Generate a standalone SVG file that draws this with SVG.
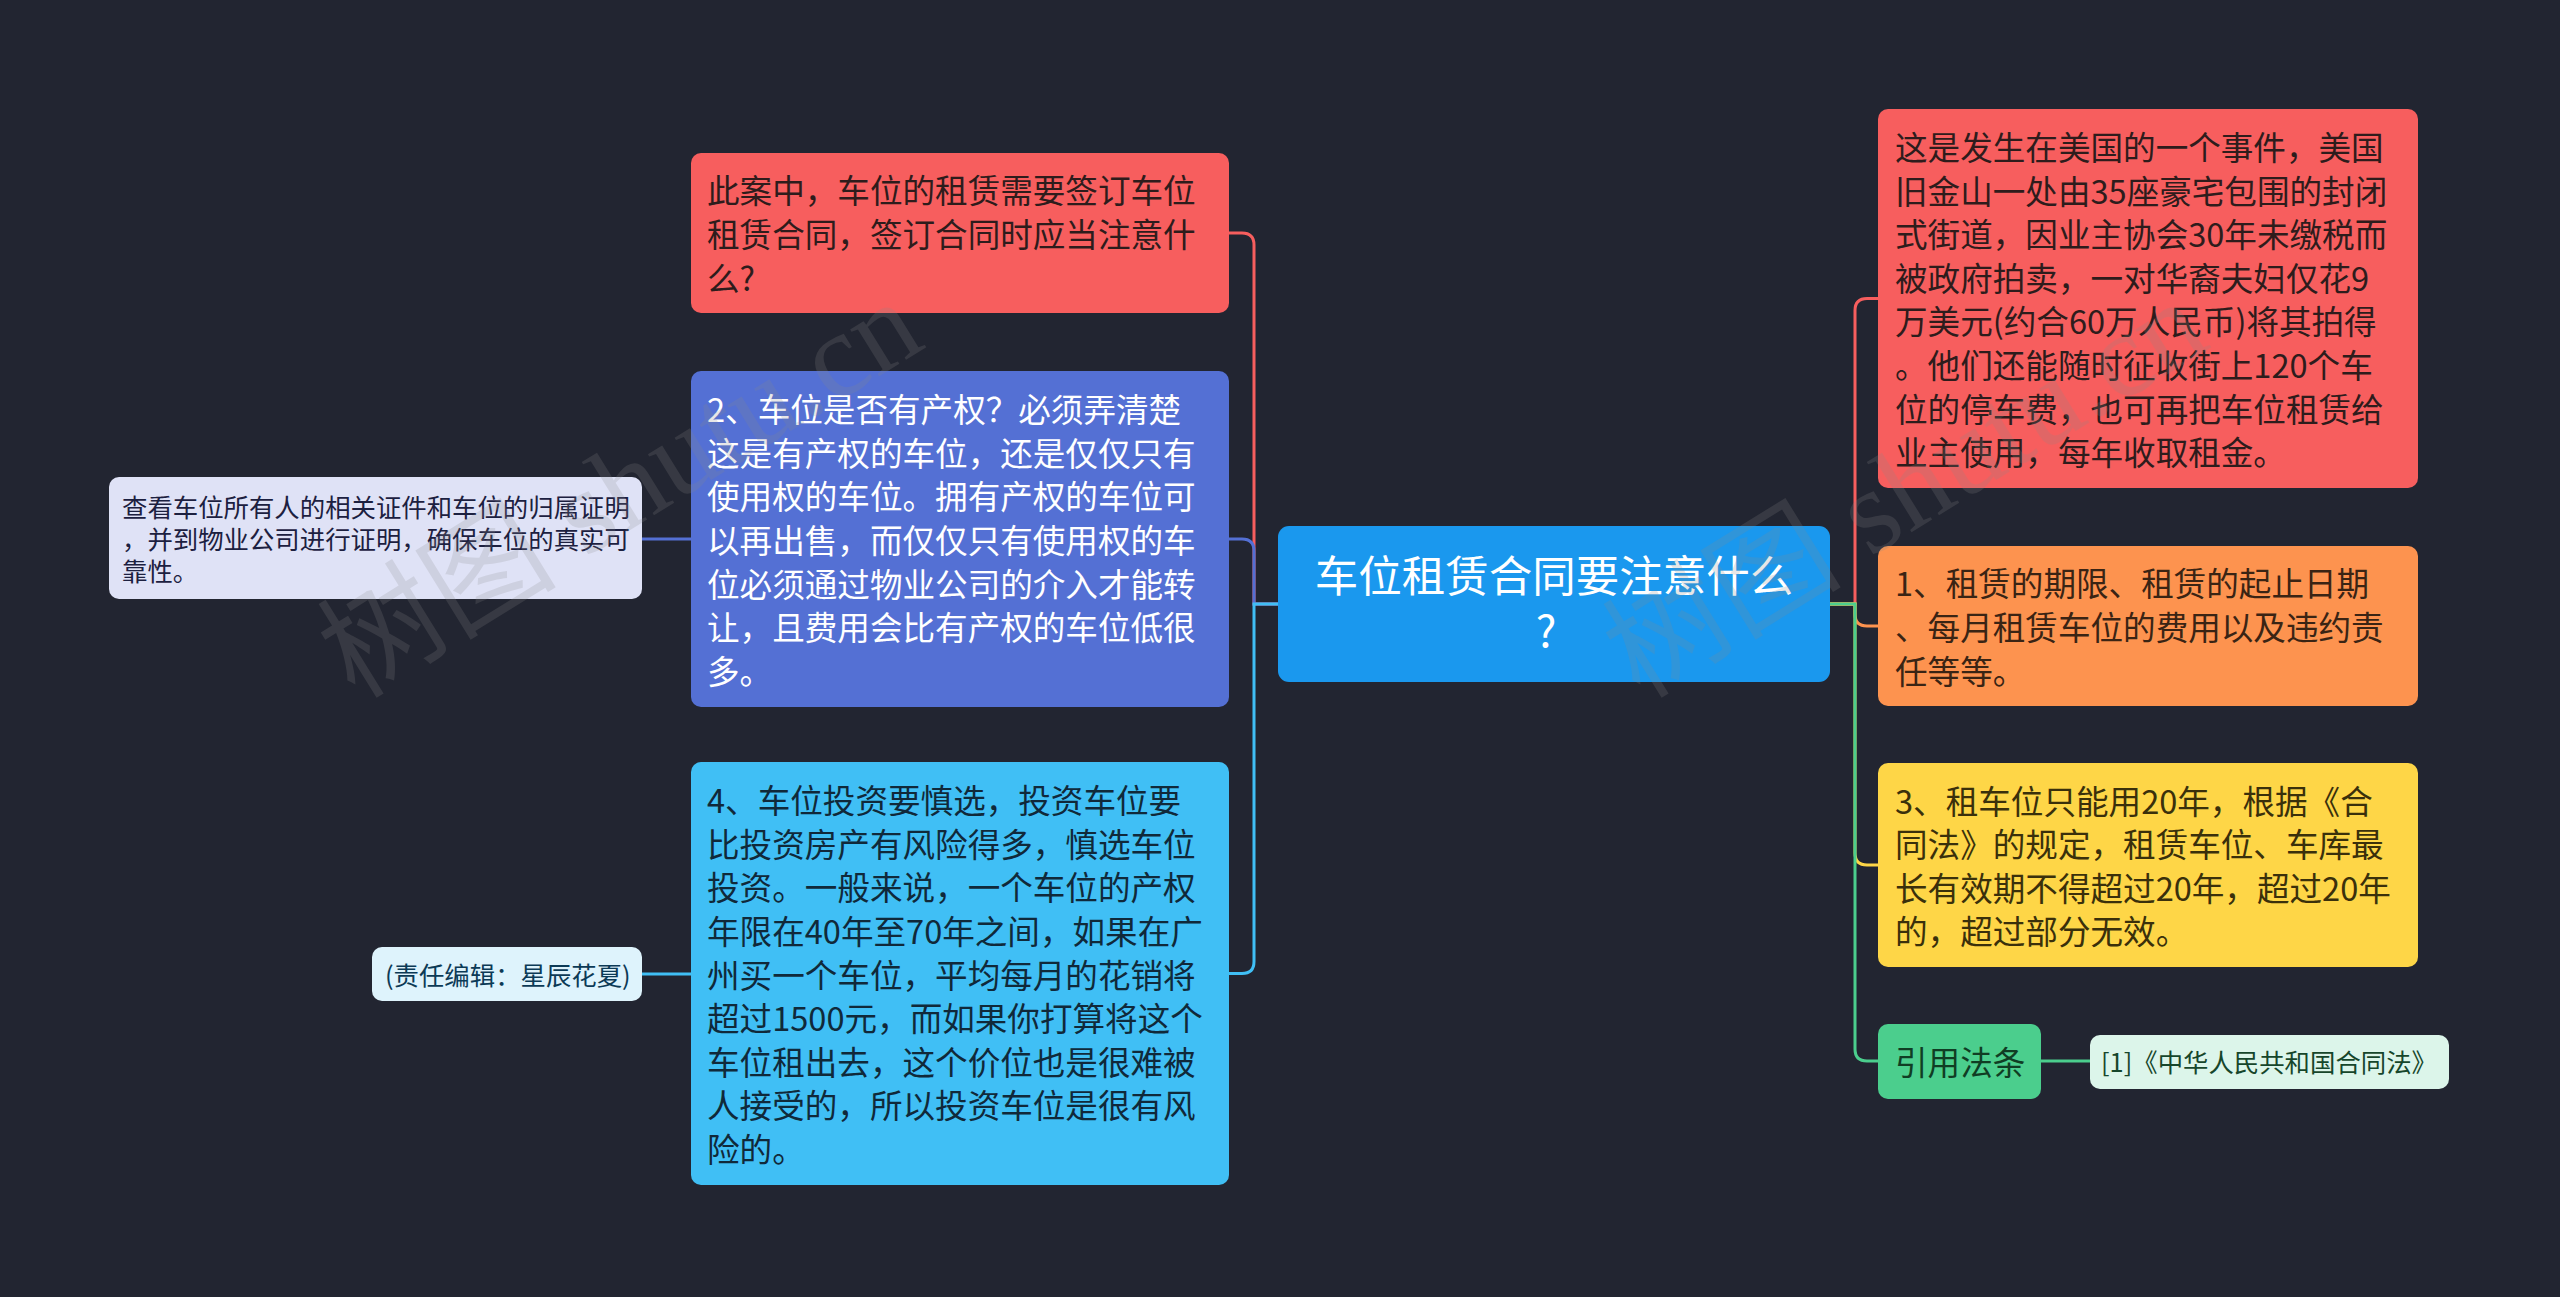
<svg xmlns="http://www.w3.org/2000/svg" width="2560" height="1297" viewBox="0 0 2560 1297">
<style>
.t{font-family:"Noto Sans CJK SC","Liberation Sans",sans-serif;dominant-baseline:central}
.b{font-size:32.6px}
.s{font-size:25.4px}
.c{font-size:43.5px}
.ln{fill:none;stroke-width:3}
.wm{font-family:"Liberation Serif","Noto Sans CJK SC",serif;font-size:120px;fill:#8a8a8a;opacity:0.2}
</style>
<rect width="2560" height="1297" fill="#222531"/>

<g id="connectors">
<path class="ln" stroke="#f75e5e" d="M1278,604 H1254 V245 Q1254,233 1242,233 H1229"/>
<path class="ln" stroke="#5470d4" d="M1278,604 H1254 V551 Q1254,539 1242,539 H1229"/>
<path class="ln" stroke="#40bff5" d="M1278,604 H1254 V961.5 Q1254,973.5 1242,973.5 H1229"/>
<path class="ln" stroke="#5470d4" d="M691,539 H642"/>
<path class="ln" stroke="#40bff5" d="M691,974 H642"/>
<path class="ln" stroke="#f75e5e" d="M1830,604 H1855 V310.5 Q1855,298.5 1867,298.5 H1878"/>
<path class="ln" stroke="#fd934f" d="M1830,604 H1855 V614 Q1855,626 1867,626 H1878"/>
<path class="ln" stroke="#fed647" d="M1830,604 H1855 V853 Q1855,865 1867,865 H1878"/>
<path class="ln" stroke="#4bce8d" d="M1830,604 H1855 V1049 Q1855,1061 1867,1061 H1878"/>
<path class="ln" stroke="#4bce8d" d="M2041,1061 H2090"/>
</g>

<g id="center">
<rect x="1278" y="526" width="552" height="156" rx="11" fill="#1a98ee"/>
<text class="t c" fill="#ffffff" text-anchor="middle"><tspan x="1554" y="572.5">车位租赁合同要注意什么</tspan><tspan x="1546" y="627.5">?</tspan></text>
</g>

<g id="node-l1">
<rect x="691" y="153" width="538" height="160" rx="10" fill="#f75e5e"/>
<text class="t b" fill="#2e1c1c"><tspan x="707" y="188.4">此案中，车位的租赁需要签订车位</tspan><tspan x="707" y="232">租赁合同，签订合同时应当注意什</tspan><tspan x="707" y="275.6">么?</tspan></text>
</g>

<g id="node-l2">
<rect x="691" y="371" width="538" height="336" rx="10" fill="#5470d4"/>
<text class="t b" fill="#ffffff"><tspan x="707" y="407.2">2、车位是否有产权？必须弄清楚</tspan><tspan x="707" y="450.8">这是有产权的车位，还是仅仅只有</tspan><tspan x="707" y="494.4">使用权的车位。拥有产权的车位可</tspan><tspan x="707" y="538">以再出售，而仅仅只有使用权的车</tspan><tspan x="707" y="581.6">位必须通过物业公司的介入才能转</tspan><tspan x="707" y="625.2">让，且费用会比有产权的车位低很</tspan><tspan x="707" y="668.8">多。</tspan></text>
</g>

<g id="node-l2a">
<rect x="109" y="477" width="533" height="122" rx="10" fill="#dfe2f6"/>
<text class="t s" fill="#1c2040"><tspan x="122" y="506">查看车位所有人的相关证件和车位的归属证明</tspan><tspan x="122" y="538">，并到物业公司进行证明，确保车位的真实可</tspan><tspan x="122" y="570">靠性。</tspan></text>
</g>

<g id="node-l3">
<rect x="691" y="762" width="538" height="423" rx="10" fill="#40bff5"/>
<text class="t b" fill="#10293a"><tspan x="707" y="798.1">4、车位投资要慎选，投资车位要</tspan><tspan x="707" y="841.7">比投资房产有风险得多，慎选车位</tspan><tspan x="707" y="885.3">投资。一般来说，一个车位的产权</tspan><tspan x="707" y="928.9">年限在40年至70年之间，如果在广</tspan><tspan x="707" y="972.5">州买一个车位，平均每月的花销将</tspan><tspan x="707" y="1016.1">超过1500元，而如果你打算将这个</tspan><tspan x="707" y="1059.7">车位租出去，这个价位也是很难被</tspan><tspan x="707" y="1103.3">人接受的，所以投资车位是很有风</tspan><tspan x="707" y="1146.9">险的。</tspan></text>
</g>

<g id="node-l3a">
<rect x="372" y="947" width="270" height="54" rx="10" fill="#def3fc"/>
<text class="t s" fill="#0c3a56" x="385" y="974">(责任编辑：星辰花夏)</text>
</g>

<g id="node-r1">
<rect x="1878" y="109" width="540" height="379" rx="10" fill="#f75e5e"/>
<text class="t b" fill="#2e1c1c"><tspan x="1895" y="144.9">这是发生在美国的一个事件，美国</tspan><tspan x="1895" y="188.5">旧金山一处由35座豪宅包围的封闭</tspan><tspan x="1895" y="232.1">式街道，因业主协会30年未缴税而</tspan><tspan x="1895" y="275.7">被政府拍卖，一对华裔夫妇仅花9</tspan><tspan x="1895" y="319.3">万美元(约合60万人民币)将其拍得</tspan><tspan x="1895" y="362.9">。他们还能随时征收街上120个车</tspan><tspan x="1895" y="406.5">位的停车费，也可再把车位租赁给</tspan><tspan x="1895" y="450.1">业主使用，每年收取租金。</tspan></text>
</g>

<g id="node-r2">
<rect x="1878" y="546" width="540" height="160" rx="10" fill="#fd934f"/>
<text class="t b" fill="#3a2414"><tspan x="1895" y="581.4">1、租赁的期限、租赁的起止日期</tspan><tspan x="1895" y="625">、每月租赁车位的费用以及违约责</tspan><tspan x="1895" y="668.6">任等等。</tspan></text>
</g>

<g id="node-r3">
<rect x="1878" y="763" width="540" height="204" rx="10" fill="#fed647"/>
<text class="t b" fill="#3a300b"><tspan x="1895" y="798.6">3、租车位只能用20年，根据《合</tspan><tspan x="1895" y="842.2">同法》的规定，租赁车位、车库最</tspan><tspan x="1895" y="885.8">长有效期不得超过20年，超过20年</tspan><tspan x="1895" y="929.4">的，超过部分无效。</tspan></text>
</g>

<g id="node-r4">
<rect x="1878" y="1024" width="163" height="75" rx="10" fill="#4bce8d"/>
<text class="t b" fill="#103d24" x="1895" y="1060">引用法条</text>
</g>

<g id="node-r4a">
<rect x="2090" y="1035" width="359" height="54" rx="10" fill="#dcf5ea"/>
<text class="t s" fill="#16462b" x="2101" y="1061">[1]《中华人民共和国合同法》</text>
</g>

<g id="watermarks">
<text class="wm" x="355" y="700" transform="rotate(-31.7 355 700)">树图 shutu.cn</text>
<text class="wm" x="1640" y="700" transform="rotate(-31.7 1640 700)">树图 shutu.cn</text>
</g>
</svg>
